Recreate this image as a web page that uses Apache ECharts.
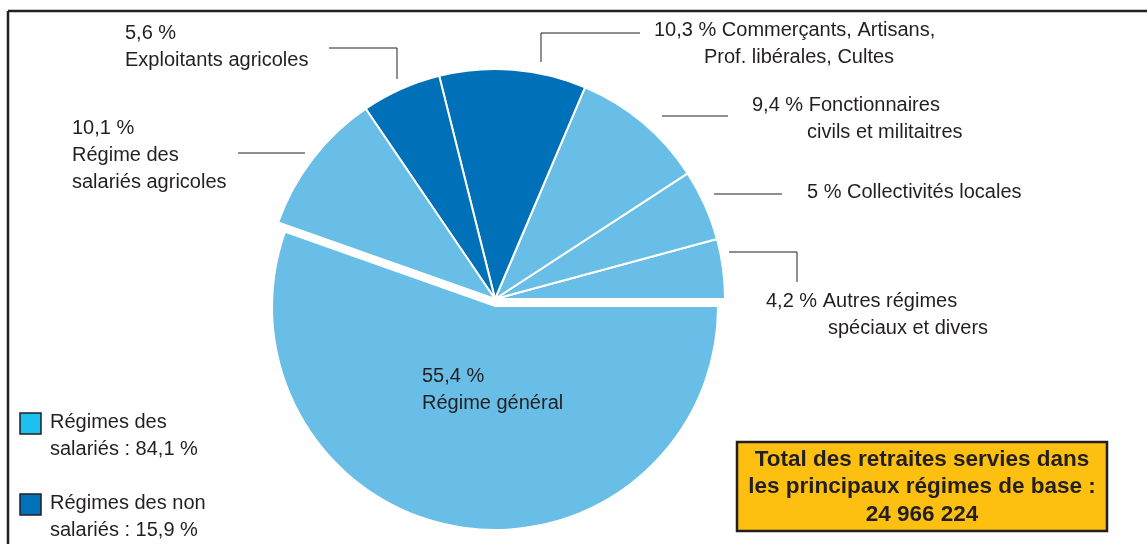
<!DOCTYPE html>
<html>
<head>
<meta charset="utf-8">
<script src="https://cdn.jsdelivr.net/npm/echarts@6/dist/echarts.min.js"></script>
<style>
html, body { margin: 0; padding: 0; background: #fff; }
#chart { width: 1147px; height: 544px; }
</style>
</head>
<body>
<div id="chart"></div>
<script>
// données (sens anti-horaire depuis 3 h)
var names = [
	'Autres régimes\nspéciaux et divers',
	'Collectivités locales',
	'Fonctionnaires\ncivils et militaitres',
	'Commerçants, Artisans,\nProf. libérales, Cultes',
	'Exploitants agricoles',
	'Régime des\nsalariés agricoles',
	'Régime général'
];
var values = [4.2, 5, 9.4, 10.3, 5.6, 10.1, 55.4];
var groupOf = [0, 0, 0, 1, 1, 0, 0]; // 0 = salariés, 1 = non salariés
var groupNames = ['Régimes des\nsalariés', 'Régimes des non\nsalariés'];
var groupTotals = [84.1, 15.9];
var totalText = 'Total des retraites servies dans\nles principaux régimes de base :';
var totalValue = '24 966 224';
var bigIndex = 6;

var sliceColors = ['#68BEE6', '#0071B9'];
var legendColors = ['#1CC1F0', '#0072BC'];
var ink = '#231F20';
var font = "'Liberation Sans', Arial, sans-serif";
var fontSize = 20;
var lh = 27;

// placement des étiquettes
var labelBox = [
	{ x: 766, y: 288, indent: 62, inline: true, line: [[729, 252], [797, 252], [797, 282]] },
	{ x: 807, y: 179, indent: 0, inline: true, line: [[714, 194], [748, 194], [782, 194]] },
	{ x: 752, y: 92, indent: 55, inline: true, line: [[662, 116], [695, 116], [728, 116]] },
	{ x: 654, y: 17, indent: 50, inline: true, line: [[541, 62], [541, 33], [640, 33]] },
	{ x: 125, y: 20, indent: 0, inline: false, line: [[397, 79], [397, 48], [329, 48]] },
	{ x: 72, y: 115, indent: 0, inline: false, line: [[305, 153], [270, 153], [238, 153]] },
	{ x: 422, y: 363, indent: 0, inline: false }
];

function pct(v) {
	return String(v).replace('.', ',') + ' %';
}

var rich = {};
labelBox.forEach(function (b) {
	rich['t' + b.indent] = {
		fontFamily: font, fontSize: fontSize, color: ink, lineHeight: lh,
		padding: [0, 0, 0, b.indent]
	};
});
rich.t0 = { fontFamily: font, fontSize: fontSize, color: ink, lineHeight: lh };

function labelText(p) {
	var b = labelBox[p.dataIndex];
	var lines = p.name.split('\n');
	if (b.inline) lines[0] = pct(p.value) + ' ' + lines[0];
	else lines.unshift(pct(p.value));
	return lines.map(function (l, i) {
		return (i === 0 ? '{t0|' : '{t' + b.indent + '|') + l + '}';
	}).join('\n');
}

function layout(p) {
	var b = labelBox[p.dataIndex];
	if (!b) return;
	var r = { x: b.x, y: b.y, align: 'left', verticalAlign: 'top' };
	if (b.line) r.labelLinePoints = b.line;
	return r;
}

// série des petites parts (la grande est cachée)
var smallData = names.map(function (n, i) {
	var big = i === bigIndex;
	return {
		name: n, value: values[i],
		itemStyle: big ? { color: 'rgba(0,0,0,0)', borderWidth: 0 } : { color: sliceColors[groupOf[i]] },
		label: { show: !big },
		labelLine: { show: !big }
	};
});
// série de la grande part, décalée vers le bas
var bigData = names.map(function (n, i) {
	var big = i === bigIndex;
	return {
		name: n, value: values[i],
		itemStyle: big ? { color: sliceColors[groupOf[i]], borderWidth: 0 } : { color: 'rgba(0,0,0,0)', borderWidth: 0 },
		label: { show: big },
		labelLine: { show: false }
	};
});

var graphics = [
	{ type: 'line', shape: { x1: 8, y1: 11, x2: 1147, y2: 11 }, style: { stroke: ink, lineWidth: 2.5 } },
	{ type: 'line', shape: { x1: 8, y1: 11, x2: 8, y2: 544 }, style: { stroke: ink, lineWidth: 2.5 } }
];
var legendTop = [413, 494];
groupNames.forEach(function (g, i) {
	var parts = g.split('\n');
	graphics.push({
		type: 'rect', shape: { x: 20, y: legendTop[i], width: 21, height: 21 },
		style: { fill: legendColors[i], stroke: ink, lineWidth: 1.5 }
	});
	graphics.push({
		type: 'text', x: 50, y: legendTop[i] - 4,
		style: {
			text: parts[0] + '\n' + parts[1] + ' : ' + pct(groupTotals[i]),
			font: fontSize + 'px ' + font, fill: ink, lineHeight: lh
		}
	});
});
graphics.push({
	type: 'rect', shape: { x: 737, y: 442, width: 370, height: 89 },
	style: { fill: '#FDC010', stroke: ink, lineWidth: 2.5 }
});
graphics.push({
	type: 'text', x: 922, y: 446,
	style: {
		text: totalText + '\n' + totalValue,
		font: 'bold 22.5px ' + font, fill: ink, lineHeight: 27.5, align: 'center'
	}
});

var chart = echarts.init(document.getElementById('chart'));
chart.setOption({
	animation: false,
	graphic: graphics,
	series: [
		{
			type: 'pie',
			center: [495, 299],
			radius: 230,
			startAngle: 0,
			clockwise: false,
			avoidLabelOverlap: false,
			silent: true,
			itemStyle: { borderColor: '#fff', borderWidth: 2 },
			label: { formatter: labelText, rich: rich, fontFamily: font, fontSize: fontSize, color: ink },
			labelLine: { show: true, lineStyle: { color: ink, width: 1 } },
			labelLayout: layout,
			data: smallData
		},
		{
			type: 'pie',
			center: [495, 307],
			radius: 222,
			startAngle: 0,
			clockwise: false,
			avoidLabelOverlap: false,
			silent: true,
			label: { formatter: labelText, rich: rich, fontFamily: font, fontSize: fontSize, color: ink },
			labelLayout: layout,
			data: bigData
		}
	]
});
</script>
</body>
</html>
